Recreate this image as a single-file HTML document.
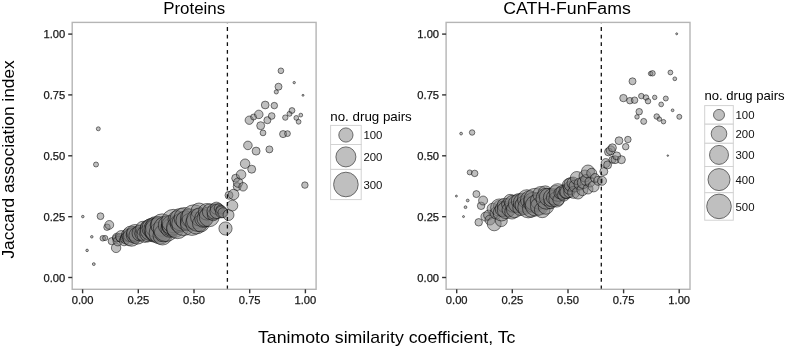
<!DOCTYPE html>
<html><head><meta charset="utf-8"><style>html,body{margin:0;padding:0;background:#fff;overflow:hidden}svg{display:block;will-change:transform}</style></head><body>
<svg width="787" height="348" viewBox="0 0 787 348">
<rect width="787" height="348" fill="#fff"/>
<g fill="#7f7f7f" fill-opacity="0.5" stroke="#000" stroke-opacity="0.5" stroke-width="1.0"><circle cx="82.8" cy="216.6" r="1.28"/><circle cx="87.1" cy="250.4" r="1.28"/><circle cx="91.8" cy="236.8" r="1.28"/><circle cx="93.8" cy="264.1" r="1.44"/><circle cx="96.0" cy="164.5" r="2.50"/><circle cx="98.3" cy="128.8" r="2.00"/><circle cx="100.5" cy="216.2" r="3.40"/><circle cx="102.8" cy="238.3" r="2.80"/><circle cx="105.2" cy="238.0" r="2.60"/><circle cx="107.0" cy="227.2" r="3.25"/><circle cx="109.3" cy="224.9" r="4.40"/><circle cx="111.7" cy="241.2" r="3.60"/><circle cx="116.1" cy="247.9" r="4.70"/><circle cx="116.4" cy="238.4" r="3.79"/><circle cx="116.8" cy="237.6" r="4.40"/><circle cx="117.8" cy="241.2" r="4.71"/><circle cx="120.2" cy="237.7" r="4.12"/><circle cx="121.3" cy="236.4" r="5.84"/><circle cx="124.1" cy="240.9" r="4.88"/><circle cx="125.4" cy="237.2" r="4.54"/><circle cx="125.6" cy="238.6" r="5.23"/><circle cx="127.5" cy="234.9" r="6.10"/><circle cx="129.1" cy="239.6" r="5.82"/><circle cx="130.9" cy="234.0" r="7.96"/><circle cx="131.5" cy="237.4" r="8.85"/><circle cx="134.4" cy="234.9" r="8.19"/><circle cx="135.2" cy="232.9" r="8.46"/><circle cx="137.4" cy="235.6" r="8.53"/><circle cx="139.7" cy="231.2" r="5.81"/><circle cx="140.0" cy="233.0" r="8.00"/><circle cx="141.3" cy="233.9" r="6.44"/><circle cx="143.0" cy="228.6" r="7.35"/><circle cx="145.0" cy="234.3" r="8.14"/><circle cx="147.1" cy="227.4" r="6.79"/><circle cx="148.3" cy="233.2" r="8.66"/><circle cx="151.1" cy="229.8" r="10.97"/><circle cx="152.2" cy="228.3" r="10.16"/><circle cx="154.6" cy="232.9" r="9.31"/><circle cx="155.7" cy="229.3" r="11.82"/><circle cx="156.0" cy="227.0" r="10.50"/><circle cx="157.3" cy="230.2" r="12.25"/><circle cx="159.0" cy="225.2" r="8.79"/><circle cx="160.1" cy="233.1" r="10.99"/><circle cx="162.2" cy="225.1" r="11.24"/><circle cx="162.5" cy="235.5" r="9.50"/><circle cx="163.2" cy="233.1" r="8.81"/><circle cx="166.1" cy="228.8" r="12.77"/><circle cx="168.1" cy="225.3" r="9.81"/><circle cx="169.5" cy="228.6" r="8.64"/><circle cx="170.4" cy="225.1" r="9.03"/><circle cx="171.5" cy="227.2" r="9.21"/><circle cx="172.0" cy="225.0" r="10.00"/><circle cx="173.3" cy="221.1" r="11.73"/><circle cx="175.2" cy="229.0" r="8.45"/><circle cx="176.8" cy="219.7" r="8.80"/><circle cx="177.5" cy="227.6" r="11.05"/><circle cx="179.0" cy="223.4" r="8.91"/><circle cx="181.1" cy="219.6" r="11.29"/><circle cx="183.4" cy="223.9" r="11.65"/><circle cx="184.5" cy="218.0" r="10.50"/><circle cx="185.6" cy="220.6" r="9.69"/><circle cx="188.5" cy="222.2" r="8.08"/><circle cx="189.7" cy="218.1" r="9.29"/><circle cx="191.9" cy="224.0" r="11.42"/><circle cx="194.0" cy="216.9" r="12.14"/><circle cx="196.4" cy="223.2" r="10.78"/><circle cx="197.9" cy="220.1" r="11.39"/><circle cx="199.0" cy="211.0" r="8.00"/><circle cx="199.7" cy="217.0" r="9.13"/><circle cx="200.9" cy="223.5" r="8.42"/><circle cx="203.7" cy="218.4" r="8.99"/><circle cx="205.1" cy="218.5" r="8.19"/><circle cx="206.7" cy="211.8" r="8.29"/><circle cx="209.2" cy="216.8" r="9.97"/><circle cx="210.2" cy="211.6" r="7.85"/><circle cx="213.3" cy="214.7" r="6.06"/><circle cx="214.7" cy="211.5" r="7.78"/><circle cx="216.4" cy="208.2" r="6.10"/><circle cx="217.1" cy="211.4" r="7.23"/><circle cx="218.9" cy="208.2" r="4.70"/><circle cx="220.6" cy="209.5" r="4.50"/><circle cx="221.5" cy="211.9" r="5.94"/><circle cx="222.9" cy="212.7" r="5.00"/><circle cx="225.5" cy="228.5" r="6.60"/><circle cx="228.5" cy="215.0" r="5.50"/><circle cx="229.0" cy="195.3" r="4.00"/><circle cx="232.4" cy="205.6" r="5.40"/><circle cx="233.6" cy="194.5" r="5.25"/><circle cx="235.7" cy="178.2" r="4.00"/><circle cx="237.2" cy="186.6" r="4.00"/><circle cx="238.1" cy="182.6" r="4.75"/><circle cx="241.1" cy="174.6" r="4.75"/><circle cx="243.1" cy="186.8" r="4.25"/><circle cx="245.1" cy="163.7" r="4.75"/><circle cx="247.9" cy="145.4" r="4.30"/><circle cx="249.3" cy="120.2" r="4.20"/><circle cx="251.7" cy="169.2" r="4.00"/><circle cx="253.6" cy="117.0" r="3.00"/><circle cx="256.1" cy="151.1" r="4.00"/><circle cx="258.8" cy="114.4" r="4.25"/><circle cx="260.7" cy="125.7" r="4.00"/><circle cx="263.0" cy="132.9" r="2.90"/><circle cx="265.2" cy="105.0" r="3.90"/><circle cx="267.4" cy="120.2" r="3.55"/><circle cx="269.4" cy="149.4" r="3.50"/><circle cx="271.7" cy="116.0" r="3.35"/><circle cx="274.3" cy="105.6" r="3.25"/><circle cx="276.3" cy="91.9" r="2.10"/><circle cx="278.5" cy="86.7" r="3.50"/><circle cx="280.9" cy="70.8" r="2.85"/><circle cx="283.1" cy="134.1" r="3.55"/><circle cx="285.3" cy="117.6" r="2.70"/><circle cx="287.5" cy="133.6" r="2.90"/><circle cx="289.5" cy="113.8" r="2.50"/><circle cx="292.0" cy="110.5" r="2.90"/><circle cx="294.2" cy="82.6" r="1.20"/><circle cx="296.3" cy="117.9" r="2.40"/><circle cx="298.6" cy="121.8" r="2.40"/><circle cx="300.8" cy="115.1" r="1.90"/><circle cx="303.0" cy="95.3" r="1.00"/><circle cx="304.9" cy="185.1" r="3.25"/></g><line x1="227.4" y1="289.3" x2="227.4" y2="22.4" stroke="#111" stroke-width="1.3" stroke-dasharray="3.8 3.8"/><rect x="72.2" y="22.4" width="243.9" height="266.90000000000003" fill="none" stroke="#b5b5b5" stroke-width="1.4"/><line x1="68.2" y1="277.5" x2="72.2" y2="277.5" stroke="#333" stroke-width="1.4"/><line x1="82.6" y1="289.3" x2="82.6" y2="293.3" stroke="#333" stroke-width="1.4"/><text x="65.2" y="281.5" text-anchor="end" font-size="11.2" fill="#1a1a1a" font-family="Liberation Sans, sans-serif" stroke="#111" stroke-width="0.25">0.00</text><text x="82.6" y="304.3" text-anchor="middle" font-size="11.2" fill="#1a1a1a" font-family="Liberation Sans, sans-serif" stroke="#111" stroke-width="0.25">0.00</text><line x1="68.2" y1="216.7" x2="72.2" y2="216.7" stroke="#333" stroke-width="1.4"/><line x1="138.3" y1="289.3" x2="138.3" y2="293.3" stroke="#333" stroke-width="1.4"/><text x="65.2" y="220.7" text-anchor="end" font-size="11.2" fill="#1a1a1a" font-family="Liberation Sans, sans-serif" stroke="#111" stroke-width="0.25">0.25</text><text x="138.3" y="304.3" text-anchor="middle" font-size="11.2" fill="#1a1a1a" font-family="Liberation Sans, sans-serif" stroke="#111" stroke-width="0.25">0.25</text><line x1="68.2" y1="155.8" x2="72.2" y2="155.8" stroke="#333" stroke-width="1.4"/><line x1="194.0" y1="289.3" x2="194.0" y2="293.3" stroke="#333" stroke-width="1.4"/><text x="65.2" y="159.8" text-anchor="end" font-size="11.2" fill="#1a1a1a" font-family="Liberation Sans, sans-serif" stroke="#111" stroke-width="0.25">0.50</text><text x="194.0" y="304.3" text-anchor="middle" font-size="11.2" fill="#1a1a1a" font-family="Liberation Sans, sans-serif" stroke="#111" stroke-width="0.25">0.50</text><line x1="68.2" y1="94.9" x2="72.2" y2="94.9" stroke="#333" stroke-width="1.4"/><line x1="249.7" y1="289.3" x2="249.7" y2="293.3" stroke="#333" stroke-width="1.4"/><text x="65.2" y="98.9" text-anchor="end" font-size="11.2" fill="#1a1a1a" font-family="Liberation Sans, sans-serif" stroke="#111" stroke-width="0.25">0.75</text><text x="249.7" y="304.3" text-anchor="middle" font-size="11.2" fill="#1a1a1a" font-family="Liberation Sans, sans-serif" stroke="#111" stroke-width="0.25">0.75</text><line x1="68.2" y1="34.1" x2="72.2" y2="34.1" stroke="#333" stroke-width="1.4"/><line x1="305.4" y1="289.3" x2="305.4" y2="293.3" stroke="#333" stroke-width="1.4"/><text x="65.2" y="38.1" text-anchor="end" font-size="11.2" fill="#1a1a1a" font-family="Liberation Sans, sans-serif" stroke="#111" stroke-width="0.25">1.00</text><text x="305.4" y="304.3" text-anchor="middle" font-size="11.2" fill="#1a1a1a" font-family="Liberation Sans, sans-serif" stroke="#111" stroke-width="0.25">1.00</text><text x="194.2" y="13.8" text-anchor="middle" font-size="16" textLength="62" lengthAdjust="spacingAndGlyphs" fill="#000" font-family="Liberation Sans, sans-serif">Proteins</text>
<g fill="#7f7f7f" fill-opacity="0.5" stroke="#000" stroke-opacity="0.5" stroke-width="1.0"><circle cx="456.4" cy="196.1" r="1.00"/><circle cx="461.1" cy="133.6" r="1.40"/><circle cx="463.5" cy="216.6" r="1.00"/><circle cx="465.5" cy="207.2" r="1.40"/><circle cx="467.7" cy="200.5" r="1.40"/><circle cx="469.7" cy="172.4" r="2.50"/><circle cx="472.1" cy="132.5" r="2.75"/><circle cx="474.7" cy="173.4" r="3.25"/><circle cx="476.4" cy="194.1" r="3.50"/><circle cx="478.7" cy="222.3" r="3.75"/><circle cx="481.1" cy="205.8" r="3.75"/><circle cx="483.1" cy="200.5" r="4.50"/><circle cx="485.4" cy="216.6" r="4.50"/><circle cx="488.6" cy="215.1" r="5.00"/><circle cx="490.0" cy="220.0" r="5.00"/><circle cx="492.6" cy="208.7" r="5.50"/><circle cx="494.2" cy="223.8" r="7.00"/><circle cx="496.0" cy="213.0" r="6.00"/><circle cx="499.0" cy="206.0" r="5.50"/><circle cx="499.3" cy="207.6" r="8.68"/><circle cx="501.3" cy="220.6" r="6.00"/><circle cx="501.5" cy="212.7" r="8.29"/><circle cx="502.7" cy="209.0" r="7.55"/><circle cx="504.2" cy="205.3" r="6.98"/><circle cx="505.9" cy="210.0" r="8.58"/><circle cx="507.3" cy="204.2" r="5.72"/><circle cx="508.8" cy="209.8" r="6.77"/><circle cx="510.1" cy="200.7" r="6.33"/><circle cx="512.0" cy="211.8" r="7.26"/><circle cx="513.3" cy="203.7" r="8.55"/><circle cx="514.7" cy="209.4" r="8.26"/><circle cx="517.4" cy="203.7" r="9.04"/><circle cx="518.8" cy="201.1" r="7.51"/><circle cx="520.6" cy="207.7" r="7.83"/><circle cx="522.9" cy="202.7" r="9.56"/><circle cx="524.4" cy="205.2" r="9.28"/><circle cx="526.9" cy="199.1" r="9.43"/><circle cx="528.3" cy="207.4" r="10.49"/><circle cx="529.7" cy="199.9" r="9.19"/><circle cx="531.1" cy="208.6" r="8.60"/><circle cx="533.6" cy="202.3" r="10.05"/><circle cx="535.3" cy="199.7" r="11.41"/><circle cx="535.7" cy="205.6" r="10.44"/><circle cx="538.6" cy="200.9" r="8.25"/><circle cx="539.3" cy="206.3" r="8.81"/><circle cx="540.7" cy="194.4" r="7.87"/><circle cx="542.2" cy="209.9" r="7.80"/><circle cx="545.3" cy="193.1" r="7.25"/><circle cx="545.9" cy="206.6" r="7.68"/><circle cx="546.5" cy="198.7" r="10.53"/><circle cx="548.1" cy="197.2" r="8.81"/><circle cx="550.6" cy="202.3" r="6.46"/><circle cx="552.6" cy="197.7" r="9.26"/><circle cx="554.0" cy="197.5" r="7.57"/><circle cx="555.8" cy="191.6" r="6.22"/><circle cx="556.5" cy="199.4" r="7.72"/><circle cx="557.9" cy="192.5" r="8.85"/><circle cx="558.6" cy="199.7" r="5.76"/><circle cx="559.7" cy="193.0" r="5.76"/><circle cx="562.8" cy="192.5" r="7.15"/><circle cx="563.8" cy="194.9" r="6.19"/><circle cx="566.2" cy="191.4" r="7.28"/><circle cx="566.5" cy="191.8" r="6.53"/><circle cx="568.8" cy="184.9" r="6.38"/><circle cx="569.3" cy="192.1" r="5.53"/><circle cx="570.0" cy="188.0" r="6.50"/><circle cx="570.8" cy="184.4" r="6.80"/><circle cx="573.0" cy="183.0" r="6.00"/><circle cx="573.6" cy="192.4" r="5.95"/><circle cx="575.0" cy="186.0" r="6.00"/><circle cx="576.8" cy="178.0" r="6.50"/><circle cx="578.0" cy="193.0" r="6.00"/><circle cx="580.0" cy="184.0" r="6.00"/><circle cx="582.4" cy="190.1" r="5.50"/><circle cx="583.3" cy="182.6" r="6.00"/><circle cx="585.0" cy="176.0" r="6.00"/><circle cx="586.0" cy="180.0" r="5.50"/><circle cx="588.0" cy="189.0" r="5.00"/><circle cx="588.0" cy="171.5" r="6.50"/><circle cx="590.0" cy="182.0" r="5.00"/><circle cx="591.7" cy="173.3" r="5.00"/><circle cx="593.6" cy="186.4" r="5.50"/><circle cx="595.0" cy="178.0" r="4.50"/><circle cx="598.2" cy="180.8" r="4.50"/><circle cx="602.0" cy="180.8" r="4.50"/><circle cx="603.8" cy="171.5" r="4.00"/><circle cx="605.7" cy="163.1" r="4.50"/><circle cx="607.6" cy="164.9" r="4.00"/><circle cx="608.5" cy="151.9" r="4.00"/><circle cx="610.7" cy="150.3" r="4.50"/><circle cx="612.4" cy="147.8" r="4.00"/><circle cx="612.4" cy="159.8" r="3.50"/><circle cx="615.0" cy="159.7" r="4.00"/><circle cx="616.7" cy="155.9" r="4.00"/><circle cx="619.0" cy="140.7" r="3.90"/><circle cx="621.4" cy="159.7" r="4.00"/><circle cx="623.4" cy="98.1" r="3.70"/><circle cx="625.7" cy="146.7" r="3.25"/><circle cx="627.9" cy="139.5" r="3.25"/><circle cx="629.9" cy="100.7" r="3.25"/><circle cx="632.5" cy="81.3" r="3.50"/><circle cx="634.6" cy="100.2" r="3.25"/><circle cx="637.0" cy="116.9" r="2.25"/><circle cx="639.2" cy="111.7" r="3.25"/><circle cx="641.3" cy="96.1" r="2.75"/><circle cx="643.7" cy="121.4" r="3.00"/><circle cx="646.0" cy="97.5" r="2.75"/><circle cx="648.0" cy="101.2" r="2.75"/><circle cx="650.6" cy="73.6" r="2.25"/><circle cx="652.5" cy="73.3" r="2.75"/><circle cx="654.7" cy="97.4" r="2.25"/><circle cx="656.7" cy="116.5" r="2.75"/><circle cx="659.4" cy="119.1" r="2.25"/><circle cx="661.2" cy="104.4" r="2.40"/><circle cx="663.5" cy="121.7" r="2.25"/><circle cx="665.8" cy="98.5" r="2.50"/><circle cx="667.8" cy="155.6" r="0.80"/><circle cx="670.4" cy="72.5" r="2.40"/><circle cx="672.6" cy="110.3" r="1.40"/><circle cx="674.8" cy="78.8" r="1.90"/><circle cx="676.7" cy="33.8" r="1.00"/><circle cx="679.3" cy="116.8" r="2.50"/></g><line x1="601.3" y1="289.3" x2="601.3" y2="22.4" stroke="#111" stroke-width="1.3" stroke-dasharray="3.8 3.8"/><rect x="446.1" y="22.4" width="243.9" height="266.90000000000003" fill="none" stroke="#b5b5b5" stroke-width="1.4"/><line x1="442.1" y1="277.5" x2="446.1" y2="277.5" stroke="#333" stroke-width="1.4"/><line x1="456.7" y1="289.3" x2="456.7" y2="293.3" stroke="#333" stroke-width="1.4"/><text x="439.1" y="281.5" text-anchor="end" font-size="11.2" fill="#1a1a1a" font-family="Liberation Sans, sans-serif" stroke="#111" stroke-width="0.25">0.00</text><text x="456.7" y="304.3" text-anchor="middle" font-size="11.2" fill="#1a1a1a" font-family="Liberation Sans, sans-serif" stroke="#111" stroke-width="0.25">0.00</text><line x1="442.1" y1="216.7" x2="446.1" y2="216.7" stroke="#333" stroke-width="1.4"/><line x1="512.3" y1="289.3" x2="512.3" y2="293.3" stroke="#333" stroke-width="1.4"/><text x="439.1" y="220.7" text-anchor="end" font-size="11.2" fill="#1a1a1a" font-family="Liberation Sans, sans-serif" stroke="#111" stroke-width="0.25">0.25</text><text x="512.3" y="304.3" text-anchor="middle" font-size="11.2" fill="#1a1a1a" font-family="Liberation Sans, sans-serif" stroke="#111" stroke-width="0.25">0.25</text><line x1="442.1" y1="155.8" x2="446.1" y2="155.8" stroke="#333" stroke-width="1.4"/><line x1="568.0" y1="289.3" x2="568.0" y2="293.3" stroke="#333" stroke-width="1.4"/><text x="439.1" y="159.8" text-anchor="end" font-size="11.2" fill="#1a1a1a" font-family="Liberation Sans, sans-serif" stroke="#111" stroke-width="0.25">0.50</text><text x="568.0" y="304.3" text-anchor="middle" font-size="11.2" fill="#1a1a1a" font-family="Liberation Sans, sans-serif" stroke="#111" stroke-width="0.25">0.50</text><line x1="442.1" y1="94.9" x2="446.1" y2="94.9" stroke="#333" stroke-width="1.4"/><line x1="623.6" y1="289.3" x2="623.6" y2="293.3" stroke="#333" stroke-width="1.4"/><text x="439.1" y="98.9" text-anchor="end" font-size="11.2" fill="#1a1a1a" font-family="Liberation Sans, sans-serif" stroke="#111" stroke-width="0.25">0.75</text><text x="623.6" y="304.3" text-anchor="middle" font-size="11.2" fill="#1a1a1a" font-family="Liberation Sans, sans-serif" stroke="#111" stroke-width="0.25">0.75</text><line x1="442.1" y1="34.1" x2="446.1" y2="34.1" stroke="#333" stroke-width="1.4"/><line x1="679.2" y1="289.3" x2="679.2" y2="293.3" stroke="#333" stroke-width="1.4"/><text x="439.1" y="38.1" text-anchor="end" font-size="11.2" fill="#1a1a1a" font-family="Liberation Sans, sans-serif" stroke="#111" stroke-width="0.25">1.00</text><text x="679.2" y="304.3" text-anchor="middle" font-size="11.2" fill="#1a1a1a" font-family="Liberation Sans, sans-serif" stroke="#111" stroke-width="0.25">1.00</text><text x="567.0" y="13.8" text-anchor="middle" font-size="16" textLength="127.5" lengthAdjust="spacingAndGlyphs" fill="#000" font-family="Liberation Sans, sans-serif">CATH-FunFams</text>
<text x="330.3" y="120.5" font-size="13" textLength="81.5" lengthAdjust="spacingAndGlyphs" fill="#000" font-family="Liberation Sans, sans-serif">no. drug pairs</text><rect x="330.6" y="125.4" width="30.6" height="19.1" fill="#fff" stroke="#d2d2d2" stroke-width="1"/><circle cx="345.9" cy="135.0" r="7.1" fill="#bfbfbf" stroke="#555" stroke-width="0.85"/><text x="363.4" y="139.4" font-size="11.4" fill="#111" font-family="Liberation Sans, sans-serif">100</text><rect x="330.6" y="144.5" width="30.6" height="24.9" fill="#fff" stroke="#d2d2d2" stroke-width="1"/><circle cx="345.9" cy="156.9" r="10.0" fill="#bfbfbf" stroke="#555" stroke-width="0.85"/><text x="363.4" y="161.3" font-size="11.4" fill="#111" font-family="Liberation Sans, sans-serif">200</text><rect x="330.6" y="169.4" width="30.6" height="30.2" fill="#fff" stroke="#d2d2d2" stroke-width="1"/><circle cx="345.9" cy="184.5" r="12.3" fill="#bfbfbf" stroke="#555" stroke-width="0.85"/><text x="363.4" y="188.9" font-size="11.4" fill="#111" font-family="Liberation Sans, sans-serif">300</text>
<text x="704.4000000000001" y="100.1" font-size="13" textLength="80.2" lengthAdjust="spacingAndGlyphs" fill="#000" font-family="Liberation Sans, sans-serif">no. drug pairs</text><rect x="704.7" y="105.6" width="28.6" height="18.6" fill="#fff" stroke="#d2d2d2" stroke-width="1"/><circle cx="719.0" cy="114.9" r="5.5" fill="#bfbfbf" stroke="#555" stroke-width="0.85"/><text x="735.5" y="119.3" font-size="11.4" fill="#111" font-family="Liberation Sans, sans-serif">100</text><rect x="704.7" y="124.2" width="28.6" height="19.1" fill="#fff" stroke="#d2d2d2" stroke-width="1"/><circle cx="719.0" cy="133.8" r="7.8" fill="#bfbfbf" stroke="#555" stroke-width="0.85"/><text x="735.5" y="138.2" font-size="11.4" fill="#111" font-family="Liberation Sans, sans-serif">200</text><rect x="704.7" y="143.3" width="28.6" height="23.2" fill="#fff" stroke="#d2d2d2" stroke-width="1"/><circle cx="719.0" cy="154.9" r="9.5" fill="#bfbfbf" stroke="#555" stroke-width="0.85"/><text x="735.5" y="159.3" font-size="11.4" fill="#111" font-family="Liberation Sans, sans-serif">300</text><rect x="704.7" y="166.5" width="28.6" height="26.2" fill="#fff" stroke="#d2d2d2" stroke-width="1"/><circle cx="719.0" cy="179.6" r="11.0" fill="#bfbfbf" stroke="#555" stroke-width="0.85"/><text x="735.5" y="184.0" font-size="11.4" fill="#111" font-family="Liberation Sans, sans-serif">400</text><rect x="704.7" y="192.7" width="28.6" height="27.5" fill="#fff" stroke="#d2d2d2" stroke-width="1"/><circle cx="719.0" cy="206.4" r="12.3" fill="#bfbfbf" stroke="#555" stroke-width="0.85"/><text x="735.5" y="210.8" font-size="11.4" fill="#111" font-family="Liberation Sans, sans-serif">500</text>
<text x="386.7" y="342.8" text-anchor="middle" font-size="16.4" textLength="257.5" lengthAdjust="spacingAndGlyphs" fill="#000" font-family="Liberation Sans, sans-serif">Tanimoto similarity coefficient, Tc</text>
<text transform="translate(13.6,159.4) rotate(-90)" x="0" y="0" text-anchor="middle" font-size="16.4" textLength="198.3" lengthAdjust="spacingAndGlyphs" fill="#000" font-family="Liberation Sans, sans-serif">Jaccard association index</text>
</svg>
</body></html>
